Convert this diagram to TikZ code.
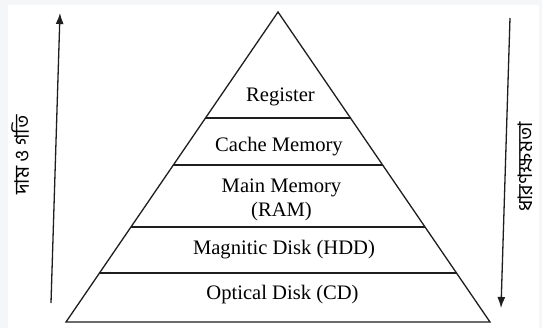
\documentclass[tikz,border=0pt]{standalone}
\usepackage{fontspec}
\setmainfont{Liberation Serif}
\newfontfamily\bnfont[Script=Bengali]{Hind Siliguri}
\usetikzlibrary{arrows.meta,calc}
\definecolor{MemInk}{RGB}{30,30,30}
\definecolor{MemFrame}{RGB}{245,246,248}
\tikzset{
  mem/edge/.style={draw=MemInk, line width=1.3pt, line join=miter},
  mem/band/.style={draw=MemInk, line width=1.3pt},
  mem/label/.style={font=\fontsize{20.6}{24}\selectfont, text=black, align=center, inner sep=0pt},
  mem/side/.style={font=\bnfont\fontsize{20}{22}\selectfont, text=black, rotate=90, inner sep=0pt},
  mem/arrow/.style={-{Latex[length=11pt,width=8pt]}, line width=1.3pt, draw=MemInk}
}
\begin{document}
\begin{tikzpicture}[x=1pt,y=-1pt]
  \fill[MemFrame] (0,0) rectangle (542,328);
  \fill[white] (8,5) rectangle (539,328);
  \useasboundingbox (0,0) rectangle (542,328);
  % pyramid outline
  \coordinate (apex) at (278,12);
  \coordinate (bl) at (66,322);
  \coordinate (br) at (490,322);
  \draw[mem/edge] (apex) -- (bl) -- (br) -- cycle;
  % level borders
  \foreach \t in {0.342,0.494,0.694,0.842}
    \draw[mem/band] ($(apex)!\t!(bl)$) -- ($(apex)!\t!(br)$);
  % levels, top to bottom
  \node[mem/label] (reg) at (280.5,96.5) {Register};
  \node[mem/label] (cache) at (279,147) {Cache Memory};
  \node[mem/label] (ram) at (281.5,200) {Main Memory\\(RAM)};
  \node[mem/label] (hdd) at (284,249.5) {Magnitic Disk (HDD)};
  \node[mem/label] (cd) at (282.5,294.5) {Optical Disk (CD)};
  % cost and speed
  \coordinate (costfoot) at (51,303);
  \coordinate (costtip) at (60,13);
  \draw[mem/arrow] (costfoot) -- (costtip);
  \node[mem/side] (cost) at (20,155) {দাম ও গতি};
  % capacity
  \coordinate (capstart) at (510,18);
  \coordinate (captip) at (501,308);
  \draw[mem/arrow] (capstart) -- (captip);
  \node[mem/side] (cap) at (525,167) {ধারণক্ষমতা};
\end{tikzpicture}
\end{document}
